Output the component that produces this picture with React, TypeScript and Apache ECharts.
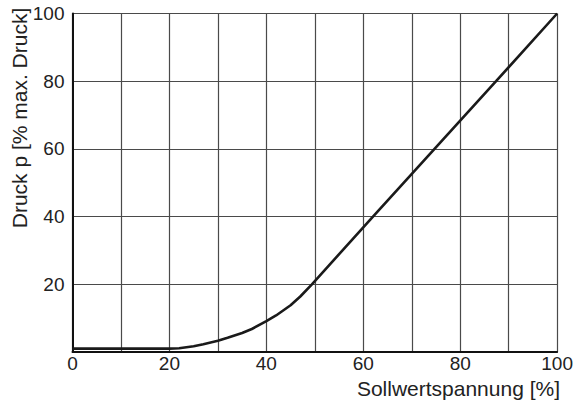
import React, { useEffect, useRef } from "react";
import * as echarts from "echarts";

const voltage = [0, 10, 20, 22, 25, 27, 30, 32, 35, 37, 40, 42, 45, 47, 49.4, 62, 74.7, 87.4, 100];
const pressure = [1, 1, 1, 1.1, 1.7, 2.3, 3.3, 4.2, 5.6, 6.8, 9.1, 10.8, 13.8, 16.4, 20, 40, 60, 80, 100];
const xTicks = [0, 20, 40, 60, 80, 100];
const yTicks = [20, 40, 60, 80, 100];
const xTitle = "Sollwertspannung [%]";
const yTitle = "Druck p [% max. Druck]";

const FONT = "'Liberation Sans', Arial, Helvetica, sans-serif";

export default function App() {
  const ref = useRef<HTMLDivElement>(null);
  useEffect(() => {
    if (!ref.current) return;
    const chart = echarts.init(ref.current, null, { renderer: "svg" });
    chart.setOption({
      animation: false,
      backgroundColor: "#ffffff",
      grid: { left: 72.5, top: 13.5, right: 18.5, bottom: 51, containLabel: false },
      xAxis: {
        type: "value",
        min: 0,
        max: 100,
        interval: 10,
        axisLine: { show: true, lineStyle: { color: "#111", width: 2 } },
        axisTick: { show: false },
        splitLine: { show: true, lineStyle: { color: "#4a4a4a", width: 1.2 } },
        axisLabel: {
          margin: 2,
          color: "#222",
          fontFamily: FONT,
          fontSize: 19,
          formatter: (v: number) => (xTicks.includes(v) ? String(v) : ""),
        },
      },
      yAxis: {
        type: "value",
        min: 0,
        max: 100,
        interval: 20,
        axisLine: { show: true, lineStyle: { color: "#111", width: 2 } },
        axisTick: { show: false },
        splitLine: { show: true, lineStyle: { color: "#4a4a4a", width: 1.2 } },
        axisLabel: {
          margin: 8,
          color: "#222",
          fontFamily: FONT,
          fontSize: 19,
          formatter: (v: number) => (yTicks.includes(v) ? String(v) : ""),
        },
      },
      graphic: [
        {
          type: "text",
          x: 19,
          y: 118,
          rotation: Math.PI / 2,
          style: {
            text: yTitle,
            fill: "#222",
            font: `21px ${FONT}`,
            textAlign: "center",
            textVerticalAlign: "middle",
          },
        },
        {
          type: "text",
          x: 560,
          y: 388,
          style: {
            text: xTitle,
            fill: "#222",
            font: `21px ${FONT}`,
            textAlign: "right",
            textVerticalAlign: "middle",
          },
        },
      ],
      series: [
        {
          type: "line",
          data: voltage.map((v, i) => [v, pressure[i]]),
          showSymbol: false,
          smooth: false,
          lineStyle: { color: "#1a1a1a", width: 2.6 },
          z: 5,
        },
      ],
    });
    return () => chart.dispose();
  }, []);
  return <div ref={ref} style={{ width: 576, height: 403, position: "absolute", left: 0, top: 0 }} />;
}
